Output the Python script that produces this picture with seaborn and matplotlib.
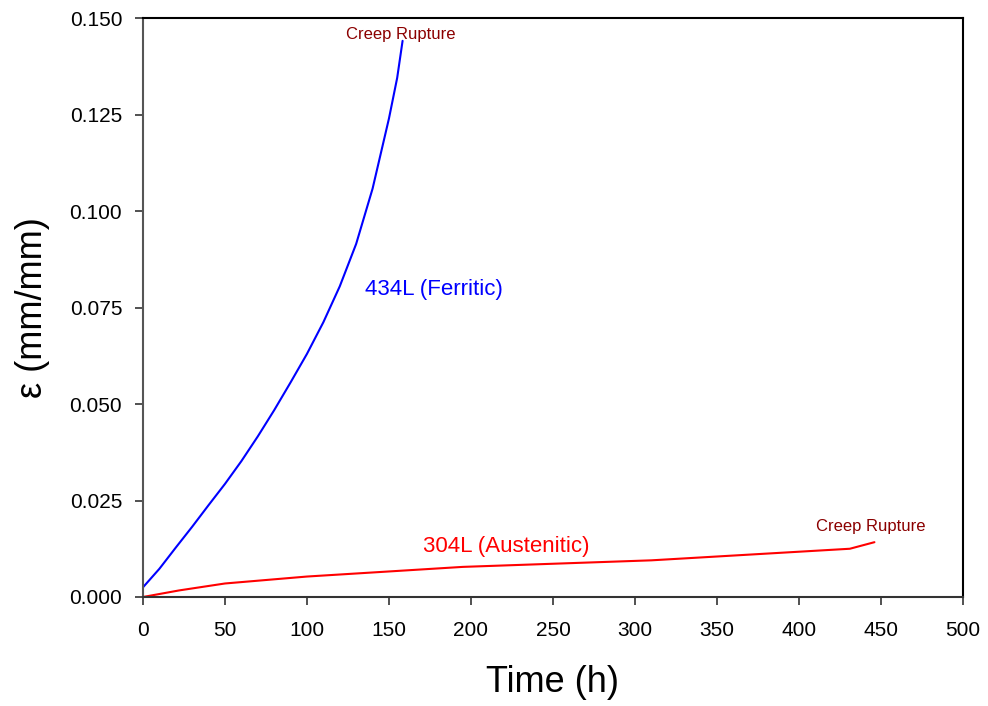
import matplotlib
matplotlib.use("Agg")
import matplotlib.pyplot as plt
import seaborn as sns
import pandas as pd

# Data
ferritic_time = [0, 10, 20, 30, 40, 50, 60, 70, 80, 90, 100, 110, 120, 130, 140, 150, 155, 158.3]
ferritic_strain = [0.0025, 0.0073, 0.0128, 0.0182, 0.0238, 0.0293, 0.0352, 0.0416, 0.0484, 0.0556, 0.0630, 0.0712, 0.0805, 0.0915, 0.1058, 0.1240, 0.1345, 0.1441]

austenitic_time = [0, 22, 50, 100, 195, 310, 431, 446]
austenitic_strain = [0.0, 0.0017, 0.0035, 0.0053, 0.0078, 0.0095, 0.0125, 0.0142]

xticks = [0, 50, 100, 150, 200, 250, 300, 350, 400, 450, 500]
yticks = [0.000, 0.025, 0.050, 0.075, 0.100, 0.125, 0.150]

df_f = pd.DataFrame({"Time": ferritic_time, "Strain": ferritic_strain})
df_a = pd.DataFrame({"Time": austenitic_time, "Strain": austenitic_strain})

sns.set_style("ticks")
plt.rcParams['font.family'] = ['Liberation Sans', 'DejaVu Sans']

fig = plt.figure(figsize=(9.88, 7.06), dpi=100)
ax = fig.add_axes([0.1447, 0.1544, 0.83, 0.82])

sns.lineplot(data=df_f, x="Time", y="Strain", ax=ax, color="#0000FF", lw=1.5, sort=False, estimator=None)
sns.lineplot(data=df_a, x="Time", y="Strain", ax=ax, color="#FF0000", lw=1.5, sort=False, estimator=None)

ax.set_xlim(0, 500)
ax.set_ylim(0, 0.150)
ax.set_xticks(xticks)
ax.set_xticklabels([str(t) for t in xticks], fontsize=15, color="black")
ax.set_yticks(yticks)
ax.set_yticklabels([f"{t:.3f}" for t in yticks], fontsize=15, color="black")
ax.tick_params(axis="x", direction="out", length=6, width=1.2, color="#333333", pad=11)
ax.tick_params(axis="y", direction="out", length=6, width=1.2, color="#333333", pad=9)
ax.tick_params(top=False, right=False)

ax.set_xlabel("Time (h)", fontsize=26, labelpad=18, color="black")
ax.set_ylabel("ε (mm/mm)", fontsize=26, labelpad=14, color="black")

for side in ["top", "right"]:
    ax.spines[side].set_visible(True)
    ax.spines[side].set_color("black")
    ax.spines[side].set_linewidth(1.5)
ax.spines["left"].set_color("#555555")
ax.spines["left"].set_linewidth(1.5)
ax.spines["bottom"].set_color("#333333")
ax.spines["bottom"].set_linewidth(1.5)

ax.text(157.3, 0.1457, "Creep Rupture", color="#8B0000", fontsize=12, ha="center", va="center")
ax.text(443.6, 0.0182, "Creep Rupture", color="#8B0000", fontsize=12, ha="center", va="center")
ax.text(177.4, 0.0797, "434L (Ferritic)", color="#0000FF", fontsize=16, ha="center", va="center")
ax.text(221.3, 0.0130, "304L (Austenitic)", color="#FF0000", fontsize=16, ha="center", va="center")

fig.savefig("out.png", dpi=100)
